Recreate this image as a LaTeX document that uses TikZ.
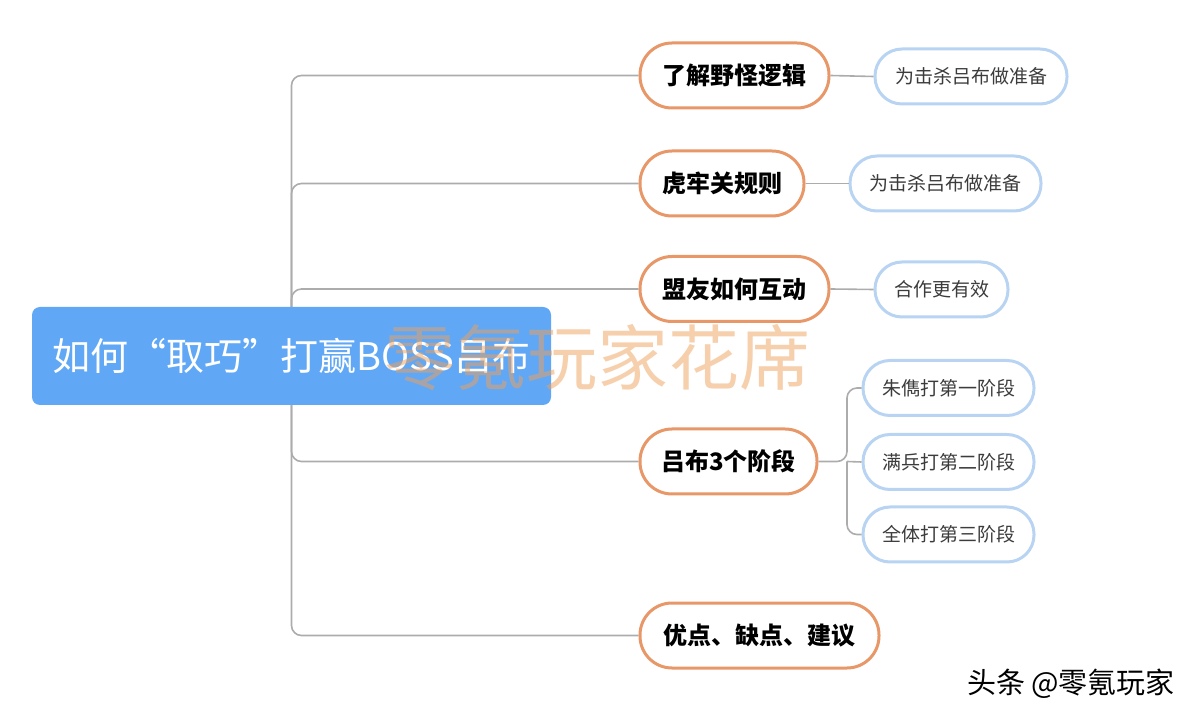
\documentclass[tikz,border=0pt]{standalone}
\usepackage{fontspec}
\setmainfont{Noto Sans CJK SC}
\newfontfamily\cjk{Noto Sans CJK SC}
\usetikzlibrary{calc}
\definecolor{rootblue}{RGB}{96,168,245}
\definecolor{orangeb}{RGB}{232,152,104}
\definecolor{blueb}{RGB}{184,212,242}
\definecolor{linegray}{RGB}{172,172,172}
\definecolor{wmark}{RGB}{238,160,90}
\definecolor{subtext}{RGB}{60,60,60}
\tikzset{
  conn/.style={draw=linegray, line width=0.8pt, rounded corners=5pt},
  rootbox/.style={fill=rootblue, draw=none, rounded corners=4pt, minimum width=259.5pt, minimum height=49pt, inner sep=0pt, text=white, font=\cjk\fontsize{19}{22}\selectfont},
  lvone/.style={draw=orangeb, fill=white, line width=1.5pt, rounded corners=16pt, minimum height=32.5pt, inner sep=0pt, text=black, font=\cjk\bfseries\fontsize{12}{14}\selectfont},
  lvtwo/.style={draw=blueb, fill=white, line width=1.5pt, rounded corners=13.5pt, minimum height=27.5pt, inner sep=0pt, text=subtext, font=\cjk\fontsize{9.5}{11}\selectfont},
  watermark/.style={text=wmark, text opacity=0.5, font=\cjk\fontsize{35.5}{40}\selectfont, inner sep=0pt},
  credit/.style={text=black, font=\cjk\fontsize{14.5}{17}\selectfont, inner sep=0pt}
}
\begin{document}
\begin{tikzpicture}[x=0.5pt, y=-0.5pt]
\useasboundingbox (0,0) rectangle (1200,721);
% level 1 nodes
\node[lvone, minimum width=94.5pt] (a) at (734.5,75.5) {了解野怪逻辑};
\node[lvone, minimum width=82pt] (b) at (722,183.5) {虎牢关规则};
\node[lvone, minimum width=94.5pt] (c) at (734.5,289) {盟友如何互动};
\node[lvone, minimum width=88.5pt] (d) at (728.5,461.5) {吕布3个阶段};
\node[lvone, minimum width=119.5pt] (e) at (759.5,635.5) {优点、缺点、建议};
% level 2 nodes
\node[lvtwo, minimum width=96pt] (a1) at (971,76.5) {为击杀吕布做准备};
\node[lvtwo, minimum width=95.5pt] (b1) at (945.5,183.5) {为击杀吕布做准备};
\node[lvtwo, minimum width=66.5pt] (c1) at (941.5,289.5) {合作更有效};
\node[lvtwo, minimum width=85.5pt] (d1) at (948.5,388) {朱儁打第一阶段};
\node[lvtwo, minimum width=85.5pt] (d2) at (948.5,462) {满兵打第二阶段};
\node[lvtwo, minimum width=85.5pt] (d3) at (948.5,534.5) {全体打第三阶段};
% root anchor
\coordinate (rc) at (291.5,356);
\coordinate (dj) at (847,461.5);
% connectors
\draw[conn] (rc) |- (a.west);
\draw[conn] (rc) |- (b.west);
\draw[conn] (rc) |- (c.west);
\draw[conn] (rc) |- (d.west);
\draw[conn] (rc) |- (e.west);
\draw[conn] (a.east) -- (a1.west);
\draw[conn] (b.east) -- (b1.west);
\draw[conn] (c.east) -- (c1.west);
\draw[conn] (d.east) -- (dj) |- (d1.west);
\draw[conn] (dj) -- (d2.west);
\draw[conn] (dj) |- (d3.west);
% root node
\node[rootbox] (root) at (291.5,356) {如何“取巧”打赢BOSS吕布};
% watermark
\node[watermark] (wm) at (597,358) {零氪玩家花席};
% credit
\node[text=white, font=\cjk\fontsize{14.5}{17}\selectfont, inner sep=0pt] (cr2) at (1072,685) {头条 @零氪玩家};
\node[credit] (cr) at (1071,684) {头条 @零氪玩家};
\end{tikzpicture}
\end{document}
